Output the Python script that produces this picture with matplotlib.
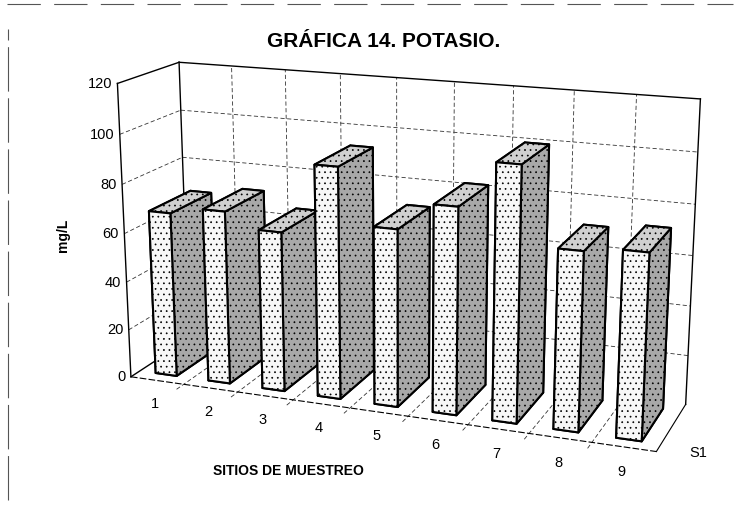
import numpy as np
import matplotlib
matplotlib.use('Agg')
import matplotlib.pyplot as plt
from matplotlib.lines import Line2D

# ---- data ----
sites = ['1', '2', '3', '4', '5', '6', '7', '8', '9']
potasio = [68, 71, 65, 93, 71, 82, 100, 70, 72]
series_name = 'S1'
z_ticks = [0, 20, 40, 60, 80, 100, 120]
title = 'GRÁFICA 14. POTASIO.'
xlabel = 'SITIOS DE MUESTREO'
ylabel = 'mg/L'

plt.rcParams['font.family'] = ['Liberation Sans', 'DejaVu Sans']
plt.rcParams['hatch.linewidth'] = 0.5
plt.rcParams['hatch.color'] = '#8a8a8a'

fig = plt.figure(figsize=(7.4, 5.06), dpi=100)
S = 640
cx, cy = 0.532, 0.498
w_ax, h_ax = S / 740, S / 506
ax = fig.add_axes([cx - w_ax / 2, cy - h_ax / 2, w_ax, h_ax],
                  projection='3d', computed_zorder=False)
ax.set_proj_type('persp', focal_length=0.5)
ax.view_init(elev=16, azim=-69)

n = len(sites)
x = np.arange(1, n + 1)
ax.set_xlim(0.5, n + 0.5)
ax.set_ylim(0, 1)
ax.set_zlim(0, 120)
ax.set_box_aspect((0.97, 0.225, 0.54), zoom=0.99)
ax.grid(False)

for a in (ax.xaxis, ax.yaxis, ax.zaxis):
    a.set_pane_color((1, 1, 1, 1))
    a.pane.set_edgecolor((1, 1, 1, 0))
    a.line.set_color((0, 0, 0, 0))

# grid on walls
gl = dict(color='#333333', lw=0.6, ls=(0, (5, 3)), zorder=1)
for z in z_ticks[1:-1]:
    ax.plot([0.5, n + 0.5], [1, 1], [z, z], **gl)
    ax.plot([0.5, 0.5], [0, 1], [z, z], **gl)
for b in np.arange(1.5, n + 0.5):
    ax.plot([b, b], [1, 1], [0, 120], **gl)
    ax.plot([b, b], [-0.12, 1], [0, 0], **gl)

# wall outlines
ol = dict(color='black', lw=1.0, zorder=2)
zt = z_ticks[-1]
ax.plot([0.5, n + 0.5], [1, 1], [zt, zt], **ol)
ax.plot([n + 0.5, n + 0.5], [1, 1], [0, zt], **ol)
ax.plot([0.5, 0.5], [0, 1], [zt, zt], **ol)
ax.plot([0.5, 0.5], [0, 0], [0, zt], **ol)
ax.plot([0.5, 0.5], [1, 1], [0, zt], **ol)
ax.plot([0.5, 0.5], [0, 1], [0, 0], **ol)
ax.plot([0.5, n + 0.5], [0, 0], [0, 0], color='black', lw=0.8, ls=(0, (6, 2)), zorder=2)
ax.plot([n + 0.5, n + 0.5], [0, 1], [0, 0], color='black', lw=0.8, zorder=2)

# bars
bw, bd = 0.4, 0.7
face_cols = []
for v in potasio:
    # bottom, top, front(-y), back(+y), left(-x), right(+x)
    face_cols += ['#9a9a9a', '#d0d0d0', '#f7f7f7', '#8c8c8c', '#cfcfcf', '#a8a8a8']
bars = ax.bar3d(x - bw / 2, np.full(n, 0.15), np.zeros(n), bw, bd, potasio,
                color=face_cols, edgecolor='black', linewidth=1.5, shade=False, zorder=5)
bars.set_hatch('...')

# ticks
ax.set_xticks(x)
ax.set_xticklabels(sites, fontsize=10.5)
ax.set_yticks([0.5])
ax.set_yticklabels([series_name], fontsize=10.5)
ax.set_zticks([])
for a in (ax.xaxis, ax.yaxis, ax.zaxis):
    a._axinfo['tick']['inward_factor'] = 0
    a._axinfo['tick']['outward_factor'] = 0

# value-axis labels along the front-left edge, projected through the axes' own transform
M = ax.get_proj()
for t in z_ticks:
    v = M @ np.array([0.5 - 0.1, 0.0, float(t), 1.0])
    # convert data coords -> normalized world coords handled by M
    ax.text2D(v[0] / v[3], v[1] / v[3], str(t), transform=ax.transData,
              ha='right', va='center', fontsize=10.5)

fig.text(0.518, 0.917, title, ha='center', va='center', fontsize=15, fontweight='bold')
fig.text(0.39, 0.07, xlabel, ha='center', va='center', fontsize=10, fontweight='bold')
fig.text(0.085, 0.535, ylabel, ha='center', va='center', fontsize=10,
         fontweight='bold', rotation=90)

fig.add_artist(Line2D([0.01, 0.99], [0.99, 0.99], color='#555555', lw=0.8,
                      ls=(0, (30, 12)), transform=fig.transFigure))
fig.add_artist(Line2D([0.011, 0.011], [0.01, 0.94], color='#555555', lw=0.8,
                      ls=(0, (40, 6)), transform=fig.transFigure))

fig.savefig('out.png', dpi=100)
